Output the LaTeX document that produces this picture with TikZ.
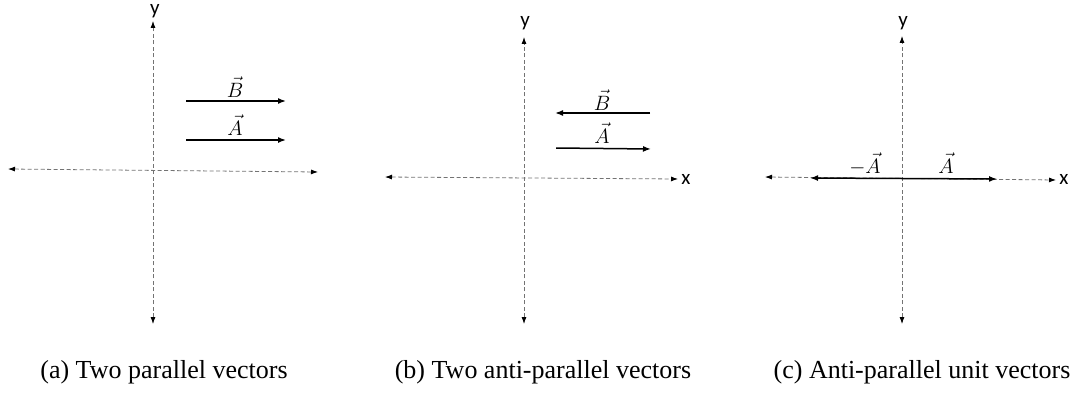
\documentclass[tikz,border=0pt]{standalone}
\usepackage{fontspec}
\setmainfont{Liberation Serif}
\newfontfamily\axisfont{Carlito}
\usetikzlibrary{arrows.meta}
\begin{document}
\begin{tikzpicture}[x=1pt,y=-1pt,
  axis/.style={draw=black!55,dashed,line width=0.8pt,dash pattern=on 4pt off 2.5pt,
     {Latex[length=7pt,width=5pt,black]}-{Latex[length=7pt,width=5pt,black]}},
  vecline/.style={draw=black,line width=1.5pt,-{Latex[length=8pt,width=6pt]}},
  axlabel/.style={font=\axisfont\fontsize{21}{24}\selectfont,inner sep=0pt},
  veclabel/.style={font=\fontsize{20}{22}\selectfont,inner sep=0pt},
  caption/.style={font=\fontsize{26}{30}\selectfont,inner sep=0pt}]
\useasboundingbox (0,0) rectangle (1086,396);
% ---------- (a) ----------
\coordinate (aT) at (153,21);
\coordinate (aB) at (153,324);
\coordinate (aL) at (8,169);
\coordinate (aR) at (318,172);
\node[axlabel] (ay) at (155,11) {y};
\draw[axis] (aB) -- (aT);
\draw[axis] (aL) -- (aR);
\coordinate (aB1) at (186,101);
\coordinate (aB2) at (286,101);
\coordinate (aA1) at (186,140);
\coordinate (aA2) at (286,140);
\draw[vecline] (aB1) -- (aB2);
\draw[vecline] (aA1) -- (aA2);
\node[veclabel] (aBl) at (235,87) {$\vec{B}$};
\node[veclabel] (aAl) at (235,125) {$\vec{A}$};
\node[caption] (ca) at (164,372) {(a) Two parallel vectors};
% ---------- (b) ----------
\coordinate (bT) at (524,37);
\coordinate (bB) at (524,324);
\coordinate (bL) at (385,177);
\coordinate (bR) at (678,179);
\node[axlabel] (by) at (525,23) {y};
\node[axlabel] (bx) at (686,179) {x};
\draw[axis] (bB) -- (bT);
\draw[axis] (bL) -- (bR);
\coordinate (bB1) at (650,113);
\coordinate (bB2) at (555,113);
\coordinate (bA1) at (556,148);
\coordinate (bA2) at (651,149);
\draw[vecline] (bB1) -- (bB2);
\draw[vecline] (bA1) -- (bA2);
\node[veclabel] (bBl) at (602,100) {$\vec{B}$};
\node[veclabel] (bAl) at (602,133) {$\vec{A}$};
\node[caption] (cb) at (543,372) {(b) Two anti-parallel vectors};
% ---------- (c) ----------
\coordinate (cT) at (902,36);
\coordinate (cB) at (902,324);
\coordinate (cL) at (765,177);
\coordinate (cR) at (1056,180);
\coordinate (cO) at (902,178.5);
\node[axlabel] (cy) at (903,23) {y};
\node[axlabel] (cx) at (1064,179) {x};
\draw[axis] (cB) -- (cT);
\draw[axis] (cL) -- (cR);
\coordinate (cN) at (810,178);
\coordinate (cP) at (997,179);
\draw[vecline] (cO) -- (cN);
\draw[vecline] (cO) -- (cP);
\node[veclabel] (cnl) at (865,164) {$-\vec{A}$};
\node[veclabel] (cpl) at (946,163) {$\vec{A}$};
\node[caption] (cc) at (922,372) {(c) Anti-parallel unit vectors};
\end{tikzpicture}
\end{document}
